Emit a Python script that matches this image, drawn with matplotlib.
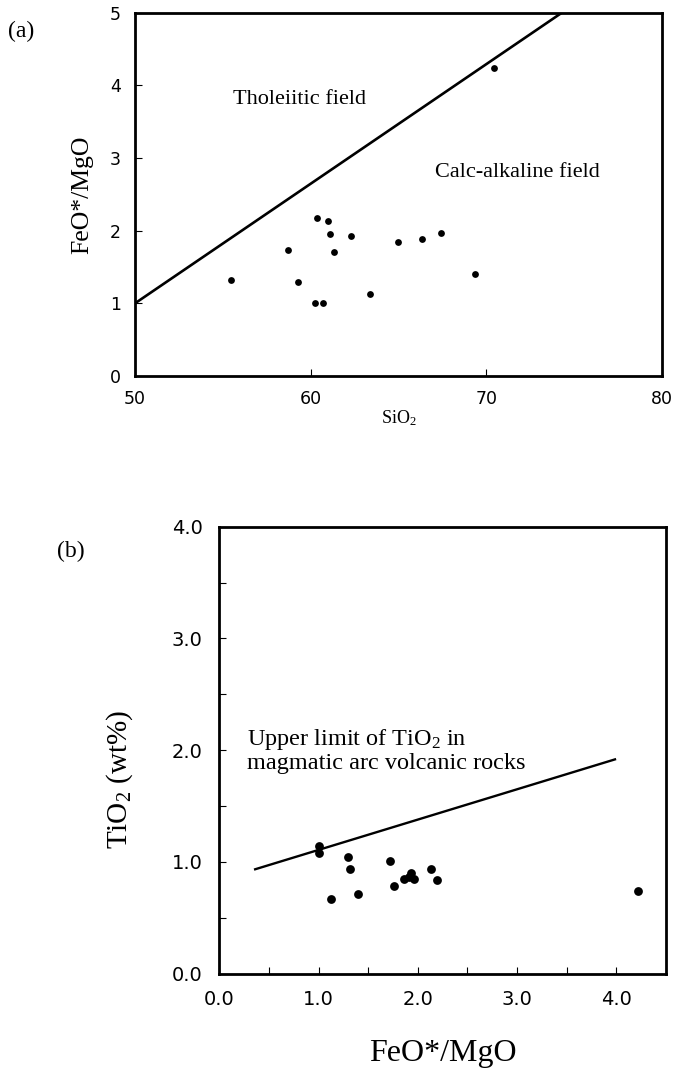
import matplotlib
matplotlib.use("Agg")
import matplotlib.pyplot as plt
from matplotlib.ticker import MultipleLocator, FormatStrFormatter

# ---- data panel (a) ----
sio2 = [60.36, 60.98, 61.11, 62.28, 58.72, 61.32, 64.96, 66.36, 67.43,
        55.49, 59.30, 69.34, 63.38, 60.26, 60.68, 70.45]
feo_mgo_a = [2.17, 2.13, 1.95, 1.92, 1.74, 1.71, 1.85, 1.88, 1.97,
             1.32, 1.29, 1.41, 1.13, 1.01, 1.00, 4.24]
line_a_x = [50.0, 74.3]
line_a_y = [1.0, 5.0]

# ---- data panel (b) ----
feo_mgo_b = [1.01, 1.01, 1.30, 1.32, 1.13, 1.40, 1.72, 1.76, 1.86,
             1.91, 1.93, 1.96, 2.13, 2.19, 4.22]
tio2 = [1.14, 1.08, 1.04, 0.94, 0.67, 0.71, 1.01, 0.78, 0.85,
        0.86, 0.90, 0.85, 0.94, 0.84, 0.74]
line_b_x = [0.35, 4.0]
line_b_y = [0.93, 1.92]

plt.rcParams["mathtext.fontset"] = "custom"
plt.rcParams["mathtext.rm"] = "Liberation Serif"
plt.rcParams["mathtext.it"] = "Liberation Serif:italic"
plt.rcParams["mathtext.bf"] = "Liberation Serif:bold"

serif = ["Liberation Serif", "DejaVu Serif"]
sans = ["DejaVu Sans"]

fig = plt.figure(figsize=(6.76, 10.71), dpi=100)

# ---------- panel (a) ----------
ax1 = fig.add_axes([135/676, 1-376/1071, 527/676, 363.3/1071])
ax1.plot(line_a_x, line_a_y, color="black", lw=1.9, solid_capstyle="butt")
ax1.scatter(sio2, feo_mgo_a, s=24, color="black", zorder=3, linewidths=0)
ax1.set_xlim(50, 80)
ax1.set_ylim(0, 5)
ax1.set_xticks([50, 60, 70, 80])
ax1.set_yticks([0, 1, 2, 3, 4, 5])
ax1.tick_params(direction="in", length=5, width=0.8, labelsize=12.5, pad=10)
for lab in ax1.get_xticklabels() + ax1.get_yticklabels():
    lab.set_family(sans)
for sp in ax1.spines.values():
    sp.set_linewidth(2.0)
ax1.set_xlabel("SiO$_2$", family=serif, fontsize=13, labelpad=0)
ax1.set_ylabel("FeO*/MgO", family=serif, fontsize=18.5, labelpad=12)
ax1.text(55.6, 3.8, "Tholeiitic field", family=serif, fontsize=16, va="center")
ax1.text(67.1, 2.8, "Calc-alkaline field", family=serif, fontsize=16, va="center")
fig.text(8/676, 1-31/1071, "(a)", family=serif, fontsize=17, va="center")

# ---------- panel (b) ----------
ax2 = fig.add_axes([219.3/676, 1-973.5/1071, 446.4/676, 446.8/1071])
ax2.plot(line_b_x, line_b_y, color="black", lw=1.7, solid_capstyle="butt")
ax2.scatter(feo_mgo_b, tio2, s=40, color="black", zorder=3, linewidths=0)
ax2.set_xlim(0, 4.5)
ax2.set_ylim(0, 4.0)
ax2.xaxis.set_major_locator(MultipleLocator(1.0))
ax2.xaxis.set_minor_locator(MultipleLocator(0.5))
ax2.yaxis.set_major_locator(MultipleLocator(1.0))
ax2.yaxis.set_minor_locator(MultipleLocator(0.5))
ax2.xaxis.set_major_formatter(FormatStrFormatter("%.1f"))
ax2.yaxis.set_major_formatter(FormatStrFormatter("%.1f"))
ax2.tick_params(which="both", direction="in", length=5, width=0.8,
                labelsize=14, pad=12)
for lab in ax2.get_xticklabels() + ax2.get_yticklabels():
    lab.set_family(sans)
for sp in ax2.spines.values():
    sp.set_linewidth(2.0)
ax2.set_xlabel("FeO*/MgO", family=serif, fontsize=23)
ax2.xaxis.set_label_coords(0.5, (973.5 - 1053) / 446.8, transform=ax2.transAxes)
ax2.xaxis.label.set_va("center")
ax2.set_ylabel("TiO$_2$ (wt%)", family=serif, fontsize=21)
ax2.yaxis.set_label_coords((120 - 219.3) / 446.4, (973.5 - 780) / 446.8,
                           transform=ax2.transAxes)
ax2.yaxis.label.set_va("center")
ax2.text(0.28, 2.0, "Upper limit of TiO$_2$ in\nmagmatic arc volcanic rocks",
         family=serif, fontsize=17.5, va="center", linespacing=1.05)
fig.text(57/676, 1-551/1071, "(b)", family=serif, fontsize=17, va="center")

fig.savefig("out.png", dpi=100)
